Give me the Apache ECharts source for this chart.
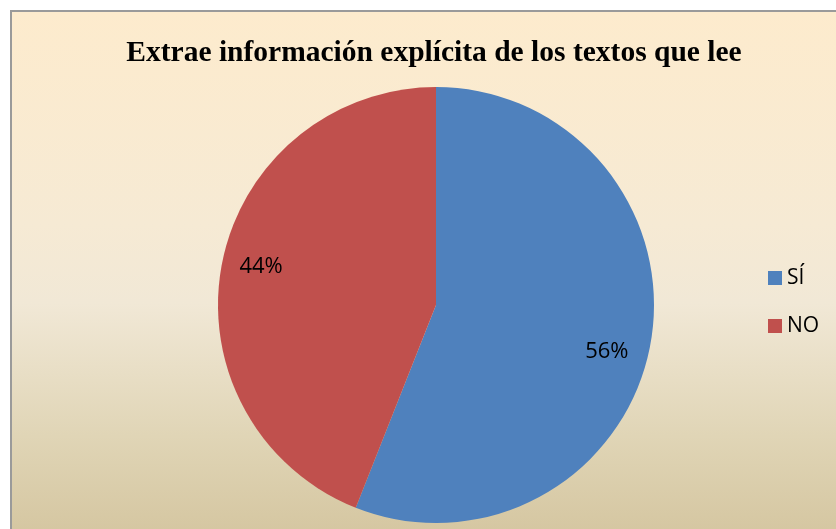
<!DOCTYPE html>
<html>
<head>
<meta charset="utf-8">
<script src="https://cdn.jsdelivr.net/npm/echarts@6/dist/echarts.min.js"></script>
<style>
  html, body { margin: 0; padding: 0; background: #fff; overflow: hidden; }
  #frame {
    position: absolute; left: 10px; top: 10px; width: 840px; height: 530px;
    border: 2px solid #9a9a9a;
    background: linear-gradient(to bottom, #fdebcd 0%, #f6ead4 40%, #f1e8d6 55%, #e0d5b6 80%, #d4c59f 100%);
  }
  #chart { position: absolute; left: 0; top: 0; width: 836px; height: 529px; }
</style>
</head>
<body>
<div id="frame"></div>
<div id="chart"></div>
<script>
  // datos
  let categorias = ['SÍ', 'NO'];
  let valores = [56, 44];
  let colores = ['#4f81bd', '#c0504d'];

  let radio = 218;
  let total = valores.reduce((a, b) => a + b, 0);

  // mover las etiquetas hacia afuera (como en Excel)
  let acum = 0;
  let datos = categorias.map(function (c, i) {
    let medio = (acum + valores[i] / 2) / total * Math.PI * 2;
    acum += valores[i];
    return {
      name: c,
      value: valores[i],
      label: { offset: [Math.sin(medio) * 64 - 2, -Math.cos(medio) * 116 + 4] }
    };
  });

  let chart = echarts.init(document.getElementById('chart'));
  chart.setOption({
    backgroundColor: 'transparent',
    color: colores,
    title: {
      text: 'Extrae información explícita de los textos que lee',
      left: 429, top: 33, textAlign: 'center',
      textStyle: { fontFamily: 'Liberation Serif', fontWeight: 'bold', fontSize: 29.5, color: '#000' }
    },
    legend: {
      data: categorias,
      orient: 'vertical',
      left: 763, top: 262,
      itemWidth: 14, itemHeight: 14, itemGap: 26,
      icon: 'rect',
      textStyle: { fontFamily: 'Open Sans', fontSize: 21, lineHeight: 22, color: '#000' }
    },
    series: [{
      type: 'pie',
      center: [436, 305],
      radius: [0, radio],
      startAngle: 90,
      clockwise: true,
      silent: true,
      label: {
        position: 'inside',
        formatter: function (p) { return Math.round(p.percent) + '%'; },
        fontFamily: 'Open Sans', fontSize: 22, color: '#000'
      },
      labelLine: { show: false },
      itemStyle: { borderWidth: 0 },
      data: datos
    }]
  });
</script>
</body>
</html>
